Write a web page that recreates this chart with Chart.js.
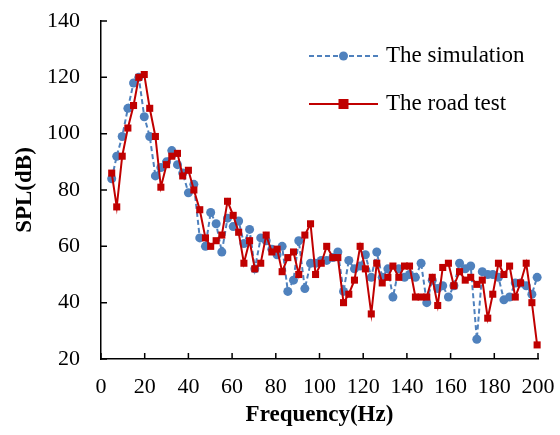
<!DOCTYPE html>
<html>
<head>
<meta charset="utf-8">
<script src="https://cdn.jsdelivr.net/npm/chart.js@4"></script>
<style>
  html, body { margin: 0; padding: 0; background: #fff; }
  #wrap { width: 560px; height: 435px; }
</style>
</head>
<body>
<div id="wrap"><canvas id="splChart"></canvas></div>
<script>
// frequencies (Hz), same grid for both series
const freq = [4.9, 7.2, 9.7, 12.3, 14.9, 17.3, 19.8, 22.3, 24.9, 27.4,
  30, 32.4, 35, 37.4, 40, 42.5, 45.2, 47.8, 50.2, 52.7,
  55.3, 57.9, 60.5, 63, 65.4, 68, 70.4, 73.1, 75.6, 78.2,
  80.6, 82.9, 85.5, 88.1, 90.5, 93.3, 95.9, 98.2, 100.8, 103.3,
  106.1, 108.4, 111, 113.4, 116, 118.6, 121, 123.7, 126.2, 128.7,
  131.3, 133.6, 136.3, 138.9, 141.2, 143.9, 146.5, 149.1, 151.6, 154.1,
  156.4, 159, 161.5, 164.1, 166.7, 169.2, 172, 174.5, 177, 179.3,
  181.9, 184.4, 187, 189.6, 192, 194.6, 197.2, 199.6];

const simulation = [84, 92, 99, 109, 118, 120, 106, 99, 85, 88,
  90, 94, 89, 86, 79, 82, 63, 60, 72, 68,
  58, 70, 67, 69, 61, 66, 52, 63, 62, 59,
  57, 60, 44, 48, 62, 45, 54, 54, 55, 55,
  56, 58, 44, 55, 52, 53, 57, 49, 58, 49,
  52, 42, 52, 49, 50, 49, 54, 40, 48, 45,
  46, 42, 46, 54, 52, 53, 27, 51, 50, 50,
  49, 41, 42, 47, 47, 46, 43, 49];

const roadTest = [86, 74, 92, 102, 110, 120, 121, 109, 99, 81,
  89, 92, 93, 85, 87, 80, 73, 63, 60, 62,
  64, 76, 71, 65, 54, 62, 52, 54, 64, 58,
  59, 51, 56, 58, 50, 64, 68, 50, 54, 60,
  56, 56, 40, 43, 48, 60, 52, 36, 54, 47,
  49, 53, 49, 53, 53, 42, 42, 42, 49, 39,
  52.5, 54, 46, 51, 48, 49, 46.5, 48, 34.5, 43,
  54, 50, 53, 42, 47, 54, 40, 25];

const seriesNames = ["The simulation", "The road test"];
const xTicks = [0, 20, 40, 60, 80, 100, 120, 140, 160, 180, 200];
const yTicks = [20, 40, 60, 80, 100, 120, 140];

const BLUE = "#4f81bd";
const RED = "#c00000";
const FONT = "'Liberation Serif', 'Times New Roman', serif";

function toPoints(xs, ys) {
  return xs.map((x, i) => ({ x: x, y: ys[i] }));
}

// ticks drawn on the inside of the axes + hand drawn legend
const decorPlugin = {
  id: "decor",
  afterDraw(chart) {
    const ctx = chart.ctx;
    const area = chart.chartArea;
    const xs = chart.scales.x;
    const ys = chart.scales.y;
    ctx.save();
    ctx.strokeStyle = "#000";
    ctx.lineWidth = 1.5;
    ctx.beginPath();
    xTicks.forEach((t) => {
      const px = xs.getPixelForValue(t);
      ctx.moveTo(px, area.bottom);
      ctx.lineTo(px, area.bottom - 6);
    });
    yTicks.forEach((t) => {
      const py = ys.getPixelForValue(t);
      ctx.moveTo(area.left, py);
      ctx.lineTo(area.left + 6, py);
    });
    ctx.stroke();

    // legend
    const lx0 = area.left + 208, lx1 = area.left + 277, mid = (lx0 + lx1) / 2;
    const rows = [
      { y: area.top + 35, color: BLUE, dash: [5, 3], marker: "circle", text: seriesNames[0] },
      { y: area.top + 83, color: RED, dash: [], marker: "rect", text: seriesNames[1] },
    ];
    rows.forEach((r) => {
      ctx.strokeStyle = r.color;
      ctx.lineWidth = 2;
      ctx.setLineDash(r.dash);
      ctx.beginPath();
      ctx.moveTo(lx0, r.y);
      ctx.lineTo(lx1, r.y);
      ctx.stroke();
      ctx.setLineDash([]);
      ctx.fillStyle = r.color;
      if (r.marker === "circle") {
        ctx.beginPath();
        ctx.arc(mid, r.y, 4.5, 0, Math.PI * 2);
        ctx.fill();
      } else {
        ctx.fillRect(mid - 5, r.y - 5, 10, 10);
      }
      ctx.fillStyle = "#000";
      ctx.font = "23px " + FONT;
      ctx.textBaseline = "middle";
      ctx.textAlign = "left";
      ctx.fillText(r.text, lx1 + 8, r.y);
    });
    ctx.restore();
  },
};

const ctx = document.getElementById("splChart").getContext("2d");
const chart = new Chart(ctx, {
  type: "scatter",
  data: {
    datasets: [
      {
        label: seriesNames[0],
        data: toPoints(freq, simulation),
        showLine: true,
        borderColor: BLUE,
        backgroundColor: BLUE,
        borderWidth: 2,
        borderDash: [5, 3],
        pointStyle: "circle",
        pointRadius: 4.5,
        pointBorderWidth: 0,
        clip: false,
        order: 2,
      },
      {
        label: seriesNames[1],
        data: toPoints(freq, roadTest),
        showLine: true,
        borderColor: RED,
        backgroundColor: RED,
        borderWidth: 2,
        pointStyle: "rect",
        pointRadius: 5,
        pointBorderWidth: 0,
        clip: false,
        order: 1,
      },
    ],
  },
  options: {
    responsive: true,
    maintainAspectRatio: false,
    animation: false,
    layout: { padding: { top: 21, right: 22, left: 0, bottom: 0 } },
    plugins: {
      legend: { display: false },
      tooltip: { enabled: false },
    },
    scales: {
      x: {
        type: "linear",
        min: 0,
        max: 200,
        afterFit: (scale) => {
          scale.height = 76;
          scale.paddingLeft = 0;
          scale.paddingRight = 0;
        },
        afterBuildTicks: (scale) => { scale.ticks = xTicks.map((v) => ({ value: v })); },
        grid: { display: false, drawTicks: false },
        border: { display: true, color: "#000", width: 1.5 },
        ticks: {
          padding: 15,
          color: "#000",
          font: { family: FONT, size: 22 },
          maxRotation: 0,
        },
        title: {
          display: true,
          text: "Frequency(Hz)",
          color: "#000",
          font: { family: FONT, size: 23, weight: "bold" },
          padding: { top: 0, bottom: 6 },
        },
      },
      y: {
        type: "linear",
        min: 20,
        max: 140,
        afterFit: (scale) => {
          scale.width = 101;
          scale.paddingTop = 0;
          scale.paddingBottom = 0;
        },
        afterBuildTicks: (scale) => { scale.ticks = yTicks.map((v) => ({ value: v })); },
        grid: { display: false, drawTicks: false },
        border: { display: true, color: "#000", width: 1.5 },
        ticks: {
          padding: 21,
          color: "#000",
          font: { family: FONT, size: 22 },
        },
        title: {
          display: true,
          text: "SPL(dB)",
          color: "#000",
          font: { family: FONT, size: 23, weight: "bold" },
          padding: { top: 11, bottom: 0 },
        },
      },
    },
  },
  plugins: [decorPlugin],
});
</script>
</body>
</html>
